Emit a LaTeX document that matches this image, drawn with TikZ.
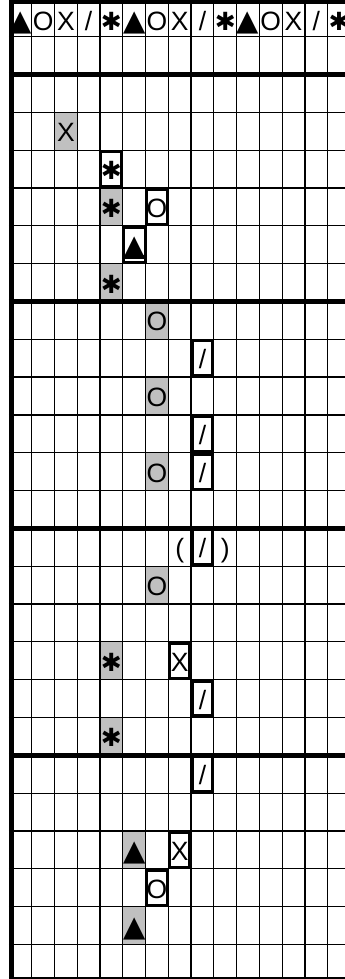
\documentclass[tikz,border=0pt]{standalone}
\usepackage{fontspec}
\setmainfont{Liberation Sans}
\newfontfamily\symfont{DejaVu Sans}
\definecolor{cellgray}{HTML}{C0C0C0}
\newcommand{\trisym}{{\fontsize{29pt}{30pt}\symfont ▲}}
\newcommand{\starsym}{{\fontsize{25pt}{30pt}\symfont ✱}}
\newcommand{\slashsym}{/}
\begin{document}
\begin{tikzpicture}[x=22.77pt, y=-37.82pt,
    every node/.style={font=\fontsize{26.5pt}{30pt}\selectfont, inner sep=0pt,
      text height=21pt, text depth=0pt},
    thinrule/.style={line width=1.25pt},
    thickrule/.style={line width=4.7pt},
    graycell/.style={fill=cellgray, minimum width=22.77pt, minimum height=37.82pt},
    boxcell/.style={draw, fill=white, line width=3pt,
      minimum width=19.77pt, minimum height=34.82pt}]
  \useasboundingbox (-8.93pt,-1.1pt) rectangle (336.07pt,-980.1pt);
  \clip (-8.93pt,-1.1pt) rectangle (336.07pt,-980.1pt);

  % shaded cells (column-0.5, row-0.5)
  \node[graycell] (r4c3)  at (2.5,3.5)   {X};
  \node[graycell] (r6c5)  at (4.5,5.5)   {\starsym};
  \node[graycell] (r8c5)  at (4.5,7.5)   {\starsym};
  \node[graycell] (r9c7)  at (6.5,8.5)   {O};
  \node[graycell] (r11c7) at (6.5,10.5)  {O};
  \node[graycell] (r13c7) at (6.5,12.5)  {O};
  \node[graycell] (r16c7) at (6.5,15.5)  {O};
  \node[graycell] (r18c5) at (4.5,17.5)  {\starsym};
  \node[graycell] (r20c5) at (4.5,19.5)  {\starsym};
  \node[graycell] (r23c6) at (5.5,22.5)  {\trisym};
  \node[graycell] (r25c6) at (5.5,24.5)  {\trisym};

  % grid
  \foreach \c in {1,...,14}
    \draw[thinrule] (\c,0) -- (\c,26);
  \foreach \r in {1,3,4,5,6,7,9,10,11,12,13,15,16,17,18,19,21,22,23,24,25}
    \draw[thinrule] (0,\r) -- (15,\r);
  \foreach \r in {2,8,14,20}
    \draw[thickrule] (0,\r) -- (15,\r);
  \draw[line width=10pt] (0,0) -- (15,0);
  \draw[line width=10pt] (0,26) -- (15,26);

  % header row
  \foreach \s [count=\i] in {\trisym,O,X,\slashsym,\starsym,\trisym,O,X,\slashsym,\starsym,\trisym,O,X,\slashsym,\starsym}
    \node (h\i) at (\i-0.5,0.5) [yshift=-2.5pt] {\s};
  \draw[thickrule] (2.72pt,0) -- (2.72pt,26);

  % framed cells
  \node[boxcell] (r5c5)  at (4.5,4.5)   {\starsym};
  \node[boxcell] (r6c7)  at (6.5,5.5)   {O};
  \node[boxcell] (r7c6)  at (5.5,6.5)   {\trisym};
  \fill ([xshift=1.5pt,yshift=4.2pt]r7c6.south west) rectangle ([xshift=-1.5pt,yshift=8.5pt]r7c6.south east);
  \node[boxcell] (r10c9) at (8.5,9.5)   {/};
  \node[boxcell] (r12c9) at (8.5,11.5)  {/};
  \node[boxcell] (r13c9) at (8.5,12.5)  {/};
  \node[boxcell] (r15c9) at (8.5,14.5)  {/};
  \node[boxcell] (r18c8) at (7.5,17.5)  {X};
  \node[boxcell] (r19c9) at (8.5,18.5)  {/};
  \node[boxcell] (r21c9) at (8.5,20.5)  {/};
  \node[boxcell] (r23c8) at (7.5,22.5)  {X};
  \node[boxcell] (r24c7) at (6.5,23.5)  {O};

  % brackets round the framed slash
  \node (r15c8)  at (7.5,14.5) {(};
  \node (r15c10) at (9.5,14.5) {)};
\end{tikzpicture}
\end{document}
